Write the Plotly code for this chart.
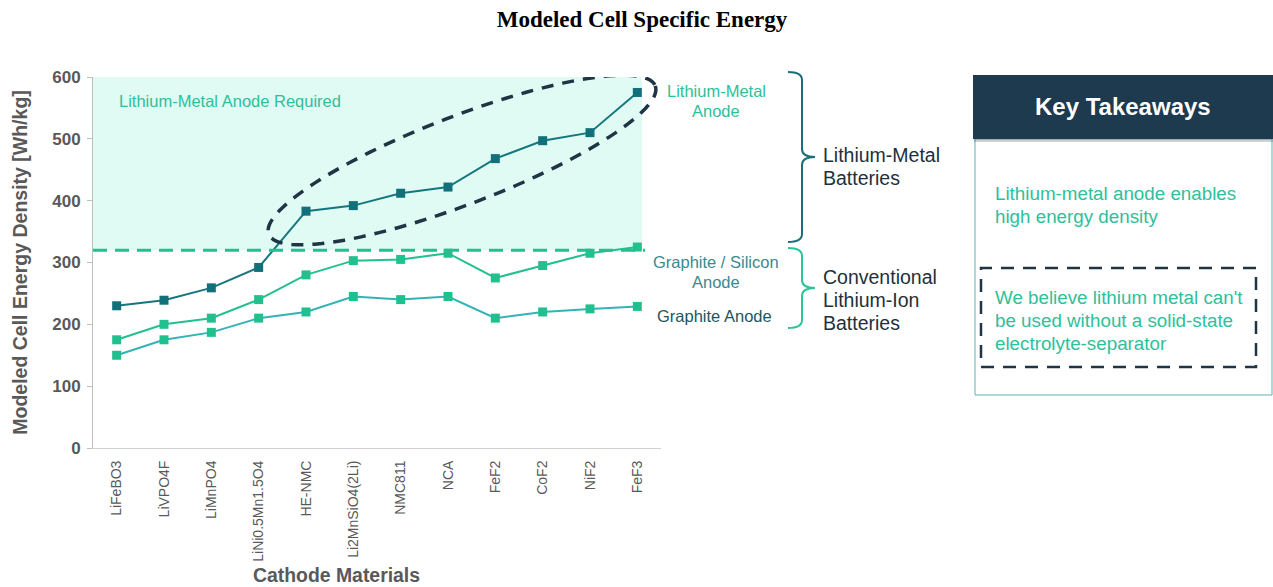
import math
import plotly.graph_objects as go

# ---- data ----
cathodes = ["LiFeBO3", "LiVPO4F", "LiMnPO4", "LiNi0.5Mn1.5O4", "HE-NMC",
            "Li2MnSiO4(2Li)", "NMC811", "NCA", "FeF2", "CoF2", "NiF2", "FeF3"]
lithium_metal = [230, 239, 259, 292, 383, 392, 412, 422, 468, 497, 510, 575]
graphite_silicon = [175, 200, 210, 240, 280, 303, 305, 315, 275, 295, 315, 325]
graphite = [150, 175, 187, 210, 220, 245, 240, 245, 210, 220, 225, 229]
li_metal_threshold = 320
y_ticks = [0, 100, 200, 300, 400, 500, 600]

# ---- layout geometry (pixels) ----
W, H = 1273, 587
PL, PR, PT, PB = 93, 661, 77, 448          # plot area edges
Y_MAX = 600
N = len(cathodes)

def px_x(px):
    """pixel x -> data x (category index)"""
    return (px - PL) / (PR - PL) * N - 0.5

def py_y(py):
    """pixel y -> data y"""
    return (PB - py) / (PB - PT) * Y_MAX

def paper_x(px):
    return (px - PL) / (PR - PL)

def paper_y(py):
    return (PB - py) / (PB - PT)

xs = list(range(N))
fig = go.Figure()

TEAL_DARK = "#15767e"
GREEN = "#22c08f"
TEAL_LIGHT = "#33b3b6"
NAVY = "#1f3444"

fig.add_trace(go.Scatter(
    x=xs, y=graphite, mode="lines+markers",
    line=dict(color=TEAL_LIGHT, width=2),
    marker=dict(symbol="square", size=9, color="#1ec18e"),
    name="Graphite Anode"))
fig.add_trace(go.Scatter(
    x=xs, y=graphite_silicon, mode="lines+markers",
    line=dict(color=GREEN, width=2),
    marker=dict(symbol="square", size=9, color=GREEN),
    name="Graphite / Silicon Anode"))
fig.add_trace(go.Scatter(
    x=xs, y=lithium_metal, mode="lines+markers",
    line=dict(color=TEAL_DARK, width=2),
    marker=dict(symbol="square", size=9, color="#117079"),
    name="Lithium-Metal Anode"))

shapes = []
# region where a lithium-metal anode is required
shapes.append(dict(type="rect", xref="x", yref="y", layer="below",
                   x0=-0.5, x1=px_x(642), y0=li_metal_threshold, y1=Y_MAX,
                   fillcolor="#dffbf4", line=dict(width=0)))
shapes.append(dict(type="line", xref="x", yref="y",
                   x0=-0.5, x1=px_x(645), y0=li_metal_threshold, y1=li_metal_threshold,
                   line=dict(color=GREEN, width=3, dash="14px,8px")))

# dashed ellipse around the lithium-metal series
cx, cy, a, b, ang = 462, 160, 207, 44, math.radians(21)
pts = []
for i in range(121):
    t = 2 * math.pi * i / 120
    u, v = a * math.cos(t), b * math.sin(t)
    px = cx + u * math.cos(ang) + v * math.sin(ang)
    py = cy - u * math.sin(ang) + v * math.cos(ang)
    pts.append((px_x(px), py_y(py)))
path = "M " + " L ".join(f"{x:.4f},{y:.3f}" for x, y in pts) + " Z"
shapes.append(dict(type="path", xref="x", yref="y", path=path,
                   line=dict(color=NAVY, width=3.5, dash="12px,9px")))

# curly braces grouping the series
def brace(top, bottom, color):
    xl, xv, xt = paper_x(788), paper_x(802), paper_x(815)
    mid = (top + bottom) / 2
    r = 8
    p = (f"M {xl},{paper_y(top)} Q {xv},{paper_y(top)} {xv},{paper_y(top + r)} "
         f"L {xv},{paper_y(mid - r)} Q {xv},{paper_y(mid)} {xt},{paper_y(mid)} "
         f"Q {xv},{paper_y(mid)} {xv},{paper_y(mid + r)} "
         f"L {xv},{paper_y(bottom - r)} Q {xv},{paper_y(bottom)} {xl},{paper_y(bottom)}")
    return dict(type="path", xref="paper", yref="paper", path=p,
                line=dict(color=color, width=2))

shapes.append(brace(72, 242, "#1b6f78"))
shapes.append(brace(248, 328, "#2cc597"))

# key takeaways panel
shapes.append(dict(type="rect", xref="paper", yref="paper",
                   x0=paper_x(975), x1=paper_x(1272), y0=paper_y(395), y1=paper_y(139),
                   line=dict(color="#5fb3b3", width=1), fillcolor="white"))
shapes.append(dict(type="rect", xref="paper", yref="paper",
                   x0=paper_x(974), x1=paper_x(1273), y0=paper_y(142), y1=paper_y(78),
                   line=dict(width=0), fillcolor="rgba(0,0,0,0.18)"))
shapes.append(dict(type="rect", xref="paper", yref="paper",
                   x0=paper_x(973), x1=paper_x(1273), y0=paper_y(139), y1=paper_y(75),
                   line=dict(width=0), fillcolor="#1e3a4e"))
shapes.append(dict(type="rect", xref="paper", yref="paper",
                   x0=paper_x(981), x1=paper_x(1256), y0=paper_y(367), y1=paper_y(268),
                   line=dict(color=NAVY, width=2.5, dash="13px,9px")))

FONT = "Liberation Sans, Arial, sans-serif"

annotations = []

def note(lines, px, py_first, size, color, xanchor="left", bold=False, spacing=None):
    """Place one annotation per line so the line spacing can be set exactly."""
    if spacing is None:
        spacing = size * 1.2
    for k, line in enumerate(lines):
        txt = f"<b>{line}</b>" if bold else line
        annotations.append(dict(
            text=txt, xref="paper", yref="paper",
            x=paper_x(px), y=paper_y(py_first + k * spacing),
            xanchor=xanchor, yanchor="middle", showarrow=False,
            font=dict(family=FONT, size=size, color=color)))

note(["Lithium-Metal Anode Required"], 117, 101, 16.5, "#2ec09a")
note(["Lithium-Metal", "Anode"], 716, 91, 16.5, "#2ec09a", "center", spacing=20)
note(["Graphite / Silicon", "Anode"], 716, 262, 16.5, "#3a8a90", "center", spacing=20)
note(["Graphite Anode"], 714, 316, 16.5, "#1e5560", "center")
note(["Lithium-Metal", "Batteries"], 821, 155, 19.5, "#22303c", spacing=23)
note(["Conventional", "Lithium-Ion", "Batteries"], 821, 277, 19.5, "#22303c", spacing=23)
note(["Key Takeaways"], 1123, 107, 24, "white", "center", bold=True)
note(["Lithium-metal anode enables", "high energy density"], 993, 193, 18.8, "#2ec09a", spacing=23)
note(["We believe lithium metal can't", "be used without a solid-state", "electrolyte-separator"],
     993, 297, 18.8, "#2ec09a", spacing=23)
note(["Cathode Materials"], 336, 575, 19.4, "#595959", "center", bold=True)

fig.update_layout(
    width=W, height=H,
    margin=dict(l=PL, r=W - PR, t=PT, b=H - PB, pad=0),
    paper_bgcolor="white", plot_bgcolor="white",
    showlegend=False,
    shapes=shapes,
    annotations=annotations,
    title=dict(text="<b>Modeled Cell Specific Energy</b>", x=642 / W, xref="container",
               xanchor="center", y=1 - 19 / H, yanchor="middle",
               font=dict(family="Liberation Serif, Times New Roman, serif", size=23, color="black")),
    font=dict(family=FONT, color="#595959"),
)

fig.update_xaxes(
    range=[-0.5, N - 0.5], tickvals=xs, ticktext=cathodes, tickangle=-90,
    showgrid=False, zeroline=False, showline=True, linecolor="#d0d0d0", linewidth=1,
    ticks="", tickfont=dict(family=FONT, size=14, color="#595959"), ticklabelstandoff=6,
)
fig.update_yaxes(
    range=[0, Y_MAX], tickvals=y_ticks, ticktext=[f"<b>{v}</b>" for v in y_ticks],
    showgrid=False, zeroline=False, showline=True, linecolor="#bfbfbf", linewidth=1,
    ticks="outside", ticklen=5, tickcolor="#bfbfbf", ticklabelstandoff=3,
    tickfont=dict(family=FONT, size=17, color="#595959"),
    title=dict(text="<b>Modeled Cell Energy Density [Wh/kg]</b>", standoff=19,
               font=dict(family=FONT, size=19.5, color="#595959")),
)

fig.write_html("out.html")
